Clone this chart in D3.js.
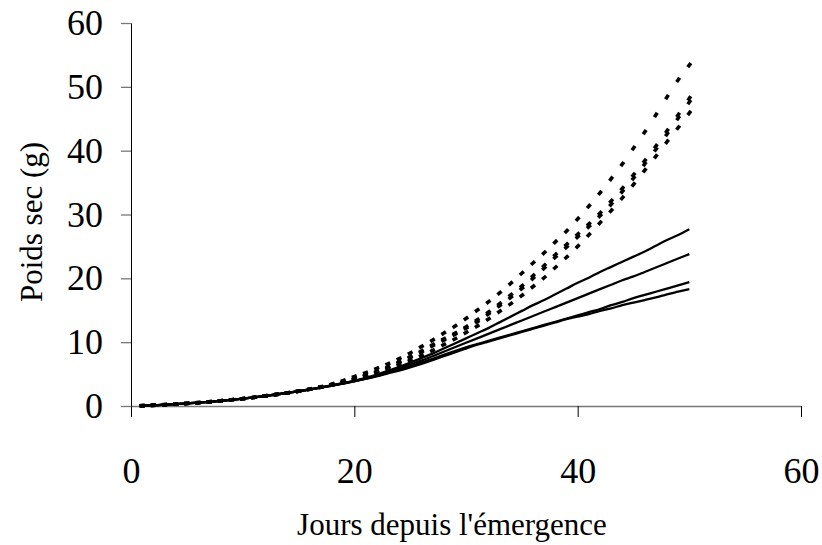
<!DOCTYPE html>
<html>
<head>
<meta charset="utf-8">
<script src="https://cdn.jsdelivr.net/npm/d3@7"></script>
<style>
  html, body { margin: 0; padding: 0; background: #fff; }
  svg text { font-family: "Liberation Serif", "Times New Roman", serif; fill: #000; }
</style>
</head>
<body>
<svg id="chart" width="822" height="545"></svg>
<script>
// ---- data ----
const days = [1,2,3,4,5,6,7,8,9,10,11,12,13,14,15,16,17,18,19,20,21,22,23,24,25,26,27,28,29,30,31,32,33,34,35,36,37,38,39,40,41,42,43,44,45,46,47,48,49,50];

// solid series
const solid1 = [0.05,0.12,0.2,0.3,0.4,0.52,0.65,0.8,0.97,1.15,1.35,1.57,1.8,2.05,2.32,2.6,2.92,3.25,3.6,3.95,4.4,4.9,5.5,6.1,6.8,7.5,8.2,9.0,9.8,10.6,11.4,12.2,13.1,14.0,14.9,15.8,16.6,17.5,18.4,19.3,20.1,21.0,21.8,22.6,23.4,24.2,25.1,26.0,26.8,27.7];
const solid2 = [0.05,0.12,0.2,0.3,0.4,0.52,0.65,0.8,0.97,1.15,1.35,1.57,1.8,2.05,2.32,2.6,2.9,3.22,3.56,3.92,4.3,4.8,5.3,5.9,6.5,7.1,7.8,8.5,9.2,9.9,10.6,11.3,12.0,12.7,13.4,14.1,14.8,15.5,16.2,16.9,17.6,18.3,19.0,19.7,20.3,21.0,21.7,22.4,23.1,23.8];
const solid3 = [0.05,0.12,0.2,0.3,0.4,0.52,0.65,0.8,0.97,1.15,1.35,1.57,1.8,2.05,2.32,2.58,2.88,3.2,3.53,3.88,4.3,4.7,5.2,5.7,6.2,6.8,7.4,8.0,8.6,9.2,9.7,10.2,10.7,11.2,11.7,12.2,12.7,13.2,13.7,14.2,14.7,15.2,15.8,16.3,16.9,17.4,17.9,18.4,18.9,19.4];
const solid4 = [0.05,0.12,0.2,0.3,0.4,0.52,0.65,0.8,0.97,1.15,1.35,1.57,1.8,2.05,2.32,2.57,2.87,3.18,3.5,3.85,4.25,4.65,5.1,5.55,6.05,6.6,7.2,7.8,8.4,9.0,9.6,10.1,10.6,11.1,11.6,12.1,12.6,13.1,13.6,14.0,14.4,14.9,15.3,15.8,16.2,16.6,17.0,17.5,17.9,18.3];

// dotted series
const dotted1 = [0.05,0.12,0.2,0.3,0.4,0.52,0.65,0.8,0.97,1.15,1.35,1.57,1.8,2.05,2.32,2.65,3.02,3.45,3.98,4.6,5.2,5.9,6.6,7.4,8.3,9.3,10.3,11.4,12.5,13.7,15.0,16.3,17.7,19.2,20.8,22.4,24.0,25.7,27.4,29.3,31.3,33.4,35.6,37.9,40.4,42.9,45.6,48.4,51.1,53.4];
const dotted2 = [0.05,0.12,0.2,0.3,0.4,0.52,0.65,0.8,0.97,1.15,1.35,1.57,1.8,2.05,2.32,2.63,2.97,3.35,3.78,4.25,4.8,5.4,6.1,6.9,7.7,8.6,9.6,10.5,11.4,12.4,13.5,14.7,16.0,17.4,18.8,20.4,22.0,23.7,25.3,26.9,28.5,30.2,32.1,34.1,36.2,38.4,40.7,43.1,45.6,48.2];
const dotted3 = [0.05,0.12,0.2,0.3,0.4,0.52,0.65,0.8,0.97,1.15,1.35,1.57,1.8,2.05,2.32,2.62,2.95,3.32,3.74,4.2,4.75,5.35,6.0,6.8,7.6,8.45,9.4,10.3,11.2,12.2,13.2,14.4,15.7,17.0,18.4,20.0,21.6,23.3,24.9,26.5,28.1,29.8,31.6,33.6,35.7,37.9,40.2,42.6,45.1,47.6];
const dotted4 = [0.05,0.12,0.2,0.3,0.4,0.52,0.65,0.8,0.97,1.15,1.35,1.57,1.8,2.05,2.32,2.62,2.94,3.3,3.7,4.15,4.65,5.2,5.8,6.45,7.15,7.9,8.7,9.6,10.5,11.5,12.5,13.6,14.8,16.0,17.3,18.7,20.1,21.7,23.3,25.0,26.8,28.7,30.6,32.6,34.7,36.9,39.1,41.4,43.6,45.9];

const xTicks = [0, 20, 40, 60];
const yTicks = [0, 10, 20, 30, 40, 50, 60];
const xTitle = "Jours depuis l'émergence";
const yTitle = "Poids sec (g)";

// ---- drawing ----
const svg = d3.select("#chart");
const x = d3.scaleLinear().domain([0, 60]).range([131, 801]);
const y = d3.scaleLinear().domain([0, 60]).range([406, 23]);

// axes
const xAxis = svg.append("g")
  .attr("transform", `translate(0,${y(0)})`)
  .call(d3.axisBottom(x).tickValues(xTicks).tickSize(11).tickSizeOuter(0).tickPadding(40).tickFormat(d3.format("d")));
xAxis.select(".domain").attr("stroke", "#777").attr("stroke-width", 1.5);
xAxis.selectAll(".tick line").attr("stroke", "#000");
xAxis.selectAll("text").style("font-size", "36px").style("font-family", "Liberation Serif");

const yAxis = svg.append("g")
  .attr("transform", `translate(${x(0)},0)`)
  .call(d3.axisLeft(y).tickValues(yTicks).tickSize(10).tickSizeOuter(0).tickPadding(18).tickFormat(d3.format("d")));
yAxis.select(".domain").attr("stroke", "#000");
yAxis.selectAll(".tick line").attr("stroke", "#777").attr("stroke-width", 1.3);
yAxis.selectAll("text").style("font-size", "36px").style("font-family", "Liberation Serif");

// axis titles
svg.append("text")
  .attr("x", (x(0) + x(60)) / 2 - 14)
  .attr("y", 535)
  .attr("text-anchor", "middle")
  .style("font-size", "31px")
  .text(xTitle);

svg.append("text")
  .attr("transform", `translate(42,222) rotate(-90)`)
  .attr("text-anchor", "middle")
  .style("font-size", "31px")
  .text(yTitle);

// solid lines
const line = d3.line().x((d, i) => x(days[i])).y(d => y(d)).curve(d3.curveMonotoneX);
[solid4, solid3, solid2, solid1].forEach(s => {
  svg.append("path")
    .datum(s)
    .attr("d", line)
    .attr("fill", "none")
    .attr("stroke", "#000")
    .attr("stroke-width", 2.3);
});

// dotted series: a short dash at every daily point, oriented along the curve
const half = 2.6;
[dotted1, dotted2, dotted3, dotted4].forEach(s => {
  const pts = s.map((v, i) => [x(days[i]), y(v)]);
  const g = svg.append("g");
  pts.forEach((p, i) => {
    const a = pts[Math.max(0, i - 1)];
    const b = pts[Math.min(pts.length - 1, i + 1)];
    const dx = b[0] - a[0], dy = b[1] - a[1];
    const len = Math.hypot(dx, dy) || 1;
    const ux = dx / len, uy = dy / len;
    g.append("line")
      .attr("x1", p[0] - ux * half).attr("y1", p[1] - uy * half)
      .attr("x2", p[0] + ux * half).attr("y2", p[1] + uy * half)
      .attr("stroke", "#000")
      .attr("stroke-width", 3.6);
  });
});
</script>
</body>
</html>
